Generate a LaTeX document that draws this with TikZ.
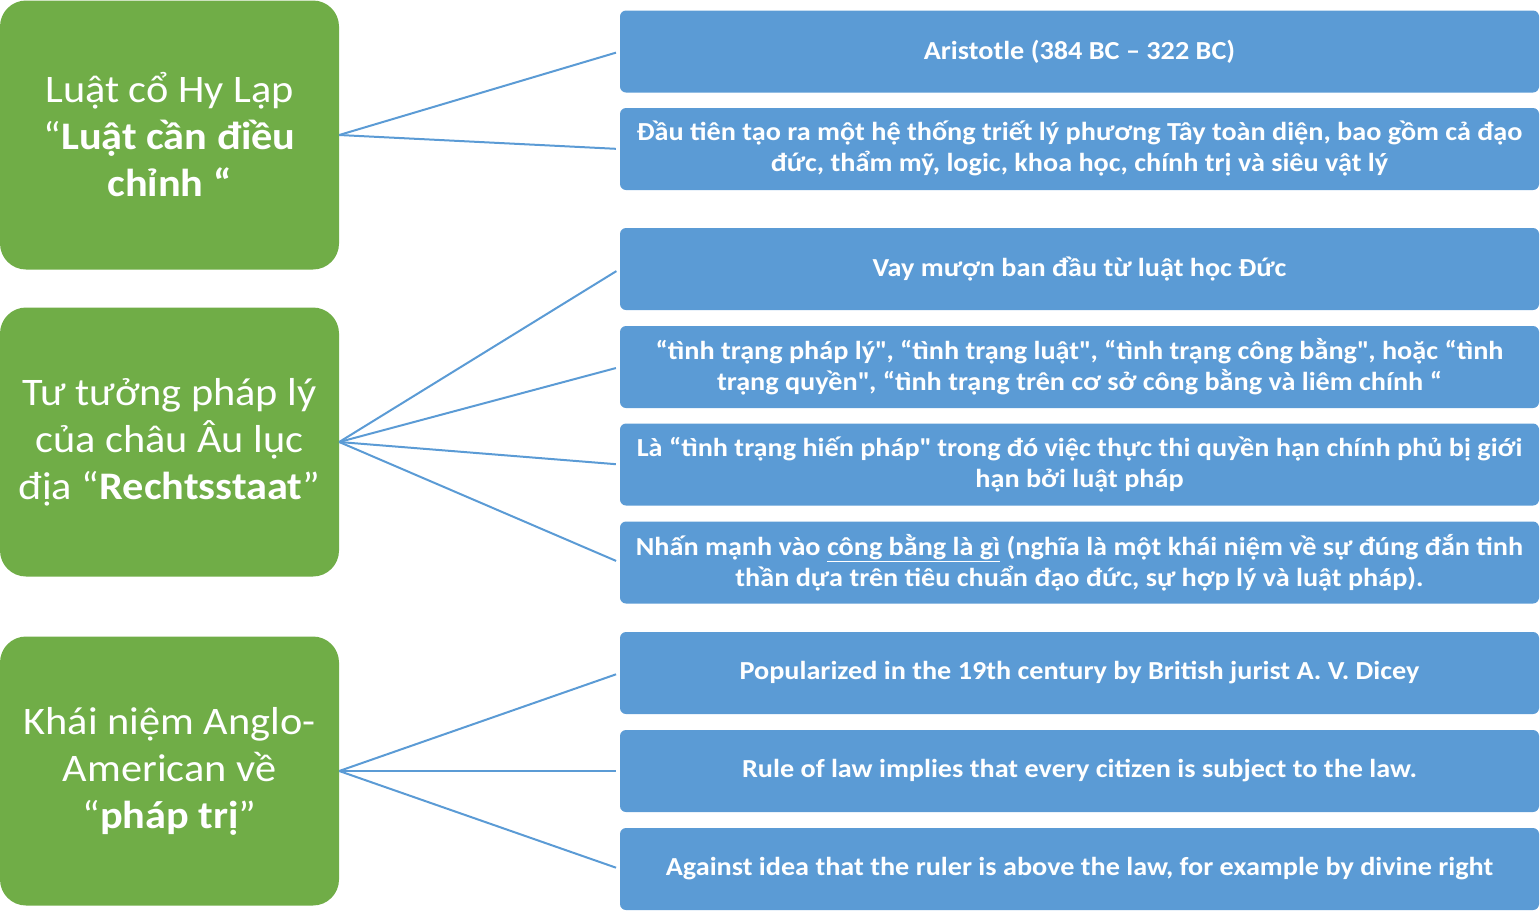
\documentclass[tikz,border=0pt]{standalone}
\usepackage{fontspec}
\setmainfont{Carlito}[FakeStretch=1.085]
\definecolor{topicgreen}{HTML}{70AD47}
\definecolor{itemblue}{HTML}{5B9BD5}
% straight double quote, set as the glyph itself
\newcommand\sq{\XeTeXglyph\XeTeXcharglyph"22\relax}
\tikzset{
  topic/.style={rectangle, rounded corners=26pt, fill=topicgreen, text=white,
    minimum width=339pt, minimum height=269pt, inner sep=0pt, align=center,
    font={\fontsize{39}{47}\selectfont}},
  item/.style={rectangle, rounded corners=6pt, fill=itemblue, text=white,
    minimum width=919pt, minimum height=82pt, inner sep=0pt, align=center,
    font={\fontsize{26}{31}\selectfont\bfseries}},
  link/.style={draw=itemblue, line width=2pt, shorten >=4pt}
}
\begin{document}
\begin{tikzpicture}[x=1pt, y=-1pt]
\useasboundingbox (0,0) rectangle (1540,911);

% topic boxes on the left
\node[topic] (t1) at (169.5,135) {Luật cổ Hy Lạp\\“\textbf{Luật cần điều}\\\textbf{chỉnh “}};
\node[topic] (t2) at (169.5,442) {Tư tưởng pháp lý\\của châu Âu lục\\địa “\textbf{Rechtsstaat}”};
\node[topic] (t3) at (169.5,771) {Khái niệm Anglo-\\American về\\“\textbf{pháp trị}”};

% detail boxes on the right
\node[item] (a1) at (1079.5,51.5) {Aristotle (384 BC – 322 BC)};
\node[item] (a2) at (1079.5,149) {Đầu tiên tạo ra một hệ thống triết lý phương Tây toàn diện, bao gồm cả đạo\\đức, thẩm mỹ, logic, khoa học, chính trị và siêu vật lý};
\node[item] (b1) at (1079.5,269) {Vay mượn ban đầu từ luật học Đức};
\node[item] (b2) at (1079.5,367) {“tình trạng pháp lý\sq, “tình trạng luật\sq, “tình trạng công bằng\sq, hoặc “tình\\trạng quyền\sq, “tình trạng trên cơ sở công bằng và liêm chính “};
\node[item] (b3) at (1079.5,464.5) {Là “tình trạng hiến pháp\sq{} trong đó việc thực thi quyền hạn chính phủ bị giới\\hạn bởi luật pháp};
\node[item] (b4) at (1079.5,562.5) {Nhấn mạnh vào \underline{công bằng là gì} (nghĩa là một khái niệm về sự đúng đắn tinh\\thần dựa trên tiêu chuẩn đạo đức, sự hợp lý và luật pháp).};
\node[item] (c1) at (1079.5,673) {Popularized in the 19th century by British jurist A. V. Dicey};
\node[item] (c2) at (1079.5,771) {Rule of law implies that every citizen is subject to the law.};
\node[item] (c3) at (1079.5,869) {Against idea that the ruler is above the law, for example by divine right};

% connectors
\foreach \n in {a1,a2} \draw[link] (t1.east) -- (\n.west);
\foreach \n in {b1,b2,b3,b4} \draw[link] (t2.east) -- (\n.west);
\foreach \n in {c1,c2,c3} \draw[link] (t3.east) -- (\n.west);
\end{tikzpicture}
\end{document}
